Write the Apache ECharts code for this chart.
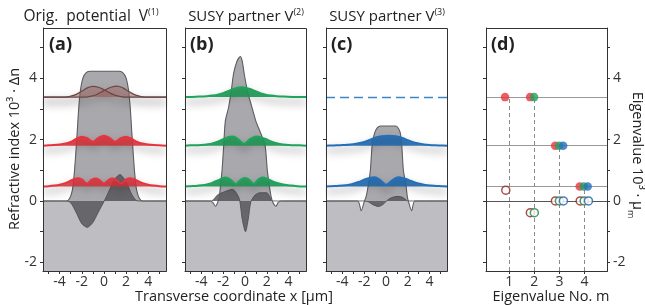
<!DOCTYPE html>
<html><head><meta charset="utf-8">
<script src="https://cdn.jsdelivr.net/npm/echarts@6/dist/echarts.min.js"></script>
<style>html,body{margin:0;padding:0;background:#fff}#c{width:645px;height:305px}</style>
</head><body><div id="c"></div>
<script>
// ---------------- data ----------------
const levels = [3.38, 1.80, 0.47];           // mode eigenvalues 10^3*mu
const xTicks = [-5,-4,-3,-2,-1,0,1,2,3,4,5];
const xLabels = [-4,-2,0,2,4];
const yTicks = [-2,-1,0,1,2,3,4,5];
const yLabels = [-2,0,2,4];
const mTicks = [1,2,3,4];
const mLabels = [1,2,3,4];

// refractive index profiles [x, dn]
const potA = [[-5.5,0],[-3.4,0],[-3.1,0.08],[-2.85,0.35],[-2.7,0.8],[-2.55,1.5],[-2.42,2.2],[-2.28,3.0],[-2.12,3.6],[-1.9,4.0],[-1.6,4.18],[-1.2,4.22],[1.3,4.22],[1.7,4.18],[2.0,4.0],[2.22,3.6],[2.38,3.0],[2.52,2.2],[2.65,1.5],[2.8,0.8],[2.95,0.35],[3.2,0.08],[3.5,0],[5.6,0]];
const potB = [[-5.5,0],[-3.2,0],[-2.95,-0.05],[-2.7,-0.17],[-2.5,-0.05],[-2.35,0.14],[-2.25,0.47],[-2.1,1.0],[-1.95,1.8],[-1.8,2.6],[-1.5,3.05],[-1.25,3.6],[-1.04,4.15],[-0.73,4.55],[-0.43,4.7],[-0.25,4.55],[-0.05,4.1],[0.25,3.55],[0.6,3.1],[1.0,2.6],[1.45,2.2],[1.85,1.8],[2.05,1.0],[2.25,0.47],[2.4,0.14],[2.55,-0.04],[2.85,-0.17],[3.05,-0.05],[3.3,0],[5.6,0]];
const potC = [[-5.5,0],[-2.6,0],[-2.27,-0.32],[-1.97,0],[-1.82,0.14],[-1.64,0.47],[-1.43,1.0],[-1.27,1.8],[-1.05,2.2],[-0.8,2.38],[-0.5,2.44],[0.9,2.44],[1.15,2.36],[1.32,2.2],[1.45,1.8],[1.6,1.0],[1.85,0.47],[1.96,0.14],[2.05,0],[2.36,-0.32],[2.66,0],[5.6,0]];

// auxiliary (dark) field profiles
const darkA = [[-5.5,0],[-3.4,0],[-3.0,-0.06],[-2.5,-0.38],[-2,-0.74],[-1.5,-0.86],[-1,-0.7],[-0.5,-0.36],[0,-0.02],[0.5,0.36],[1,0.72],[1.45,0.86],[2,0.62],[2.5,0.22],[2.9,0.02],[3.2,0],[5.6,0]];
const darkB = [[-5.5,0],[-3.1,0],[-2.8,0.08],[-2.5,0.2],[-2.1,0.27],[-1.5,0.35],[-1.15,0.38],[-0.8,0.27],[-0.5,0.05],[-0.25,-0.6],[0.05,-1.0],[0.3,-0.6],[0.55,-0.02],[0.95,0.2],[1.4,0.27],[2.0,0.27],[2.3,0.12],[2.5,0],[5.6,0]];
const darkC = [[-5.5,0],[-2.0,0],[-1.6,-0.03],[-1.2,-0.12],[-0.7,-0.18],[-0.3,-0.12],[0,-0.02],[0.3,0.07],[0.7,0.13],[1.1,0.15],[1.5,0.12],[1.8,0.05],[2.0,0],[5.6,0]];

// mode intensity profiles [x, height above level]
const modeA1L = [[-5.5,0],[-3.5,0],[-3,0.03],[-2.5,0.09],[-2,0.19],[-1.5,0.3],[-1,0.35],[-0.5,0.32],[0,0.24],[0.5,0.14],[1,0.06],[1.5,0.02],[2,0],[5.6,0]];
const modeA1R = [[-5.5,0],[-1.8,0],[-1.3,0.02],[-0.8,0.06],[-0.3,0.15],[0.2,0.25],[0.7,0.33],[1.2,0.36],[1.7,0.3],[2.2,0.19],[2.7,0.09],[3.2,0.03],[3.7,0],[5.6,0]];
const modeA2 = [[-5.5,0],[-5,0.01],[-4.5,0.02],[-4,0.04],[-3.5,0.07],[-3,0.12],[-2.5,0.22],[-2,0.29],[-1.5,0.24],[-1,0.13],[-0.5,0.25],[0,0.32],[0.5,0.25],[1,0.13],[1.5,0.24],[2,0.29],[2.5,0.22],[3,0.12],[3.5,0.07],[4,0.04],[4.5,0.02],[5,0.01],[5.6,0]];
const modeA3 = [[-5.5,0],[-5,0.01],[-4.5,0.03],[-4,0.06],[-3.5,0.11],[-3,0.19],[-2.4,0.27],[-2,0.23],[-1.55,0.1],[-1.1,0.22],[-0.7,0.26],[-0.3,0.18],[0,0.1],[0.3,0.18],[0.7,0.26],[1.1,0.22],[1.55,0.1],[2,0.23],[2.4,0.27],[3,0.19],[3.5,0.11],[4,0.06],[4.5,0.03],[5,0.01],[5.6,0]];
const modeB1 = [[-5.5,0],[-5,0.005],[-4.5,0.01],[-4,0.02],[-3.5,0.03],[-3,0.05],[-2.5,0.08],[-2,0.13],[-1.5,0.2],[-1,0.27],[-0.3,0.32],[0.4,0.27],[0.9,0.2],[1.4,0.13],[1.9,0.08],[2.4,0.05],[2.9,0.03],[3.4,0.02],[3.9,0.01],[4.4,0.005],[5.6,0]];
const modeB2 = [[-5.5,0],[-5,0.01],[-4.5,0.01],[-4,0.02],[-3.5,0.04],[-3,0.07],[-2.5,0.13],[-2,0.21],[-1.5,0.28],[-1.1,0.3],[-0.6,0.2],[-0.1,0.06],[0.5,0.22],[1.05,0.3],[1.5,0.27],[2,0.2],[2.5,0.12],[3,0.07],[3.5,0.04],[4,0.02],[4.5,0.01],[5,0.01],[5.6,0]];
const modeB3 = [[-5.5,0],[-5,0.01],[-4.5,0.02],[-4,0.04],[-3.5,0.07],[-3,0.12],[-2.5,0.2],[-1.8,0.29],[-1.3,0.22],[-0.85,0.08],[-0.4,0.22],[0,0.28],[0.4,0.22],[0.8,0.08],[1.2,0.22],[1.6,0.29],[2.2,0.22],[2.8,0.13],[3.3,0.08],[3.8,0.05],[4.3,0.03],[4.8,0.01],[5.6,0]];
const modeC2 = [[-5.5,0],[-5,0.005],[-4.5,0.01],[-4,0.02],[-3.5,0.03],[-3,0.05],[-2.5,0.08],[-2,0.12],[-1.5,0.19],[-1,0.26],[-0.4,0.31],[0.25,0.32],[0.9,0.31],[1.5,0.25],[2,0.18],[2.5,0.11],[3,0.07],[3.5,0.04],[4,0.02],[4.5,0.01],[5,0.005],[5.6,0]];
const modeC3 = [[-5.5,0],[-5,0.01],[-4.5,0.02],[-4,0.03],[-3.5,0.05],[-3,0.09],[-2.5,0.15],[-2,0.22],[-1.5,0.28],[-1.05,0.3],[-0.5,0.2],[0.03,0.06],[0.6,0.21],[1.15,0.3],[1.6,0.27],[2.1,0.21],[2.6,0.14],[3.1,0.09],[3.6,0.05],[4.1,0.03],[4.6,0.02],[5.1,0.01],[5.6,0]];

// eigenvalue panel (m, mu)
const eigRed   = [[0.83,3.38],[1.83,3.38],[2.83,1.80],[3.81,0.47]];
const eigGreen = [[1.99,3.38],[2.99,1.80],[3.97,0.47]];
const eigBlue  = [[3.15,1.80],[4.13,0.47]];
const auxRed   = [[0.86,0.35],[1.84,-0.38],[2.84,0],[3.83,0]];
const auxGreen = [[2.0,-0.38],[3.0,0],[3.99,0]];
const auxBlue  = [[3.16,0],[4.16,0]];
const stems    = [[1,3.38],[2,3.38],[3,1.80],[4,0.47]];

// ---------------- layout / style ----------------
const FONT = 'Open Sans';
const YMIN = -2.28, YMAX = 5.63, XMIN = -5.5, XMAX = 5.6, MMIN = 0.07, MMAX = 4.9;
const G = [
  {left:43, top:28, width:123, height:243},
  {left:185, top:28, width:121, height:243},
  {left:326, top:28, width:121, height:243},
  {left:486, top:28, width:121, height:243}
];
const AX = '#333';
const RED = '#e8343e', GREEN = '#20a35c', BLUE = '#2470b8', BROWN = '#6a4744';

function xAx(i, isM) {
  return {
    type:'value', gridIndex:i, min: isM?MMIN:XMIN, max: isM?MMAX:XMAX, z:10,
    axisLine:{show:true, onZero:false, lineStyle:{color:AX, width:1}},
    axisTick:{show:true, length:3, customValues: isM?mTicks:xTicks, lineStyle:{color:AX}},
    axisLabel:{show:true, customValues: isM?mLabels:xLabels, color:AX, fontFamily:FONT, fontSize:14, margin:4},
    splitLine:{show:false}
  };
}
function yAx(i, showLab, pos) {
  return {
    type:'value', gridIndex:i, min:YMIN, max:YMAX, position:pos||'left', z:10,
    axisLine:{show:true, onZero:false, lineStyle:{color:AX, width:1}},
    axisTick:{show:true, length:3, customValues:yTicks, lineStyle:{color:AX}},
    axisLabel:{show:showLab, customValues:yLabels, color:AX, fontFamily:FONT, fontSize:14, margin:6},
    splitLine:{show:false}
  };
}
const shadow = {shadowBlur:9, shadowColor:'rgba(0,0,0,0.55)', shadowOffsetY:5};

function potSeries(i, pot, dark) {
  const idx = {xAxisIndex:i, yAxisIndex:i, type:'line', showSymbol:false, silent:true, smooth:0.25, animation:false};
  return [
    Object.assign({}, idx, {data:pot, lineStyle:{width:0}, areaStyle:{origin:'start', color:'#bebec2', opacity:1}, z:1}),
    Object.assign({}, idx, {data:pot.map(p=>[p[0], Math.max(p[1],0)]), lineStyle:{width:0}, areaStyle:{origin:0, color:'#a9a9ad', opacity:1}, z:1}),
    Object.assign({}, idx, {data:dark, lineStyle:{width:0.8, color:'#4a4a4e'}, areaStyle:{origin:0, color:'#58585c', opacity:0.85}, z:2}),
    Object.assign({}, idx, {data:pot, lineStyle:{width:1.1, color:'#5e5e62'}, z:3})
  ];
}
function modeSeries(i, prof, lvl, color, fill, lw, extra) {
  return Object.assign({
    xAxisIndex:i, yAxisIndex:i, type:'line', showSymbol:false, silent:true, smooth:0.35, animation:false, z:5,
    data: prof.map(p=>[p[0], lvl + p[1]]),
    lineStyle: Object.assign({color:color, width:lw}, shadow),
    areaStyle: {origin:lvl, color:fill, opacity:1}
  }, extra||{});
}

const series = [];
series.push(...potSeries(0, potA, darkA));
series.push(...potSeries(1, potB, darkB));
series.push(...potSeries(2, potC, darkC));

series.push(modeSeries(0, modeA1L, levels[0], BROWN, 'rgba(175,115,112,0.55)', 1.2));
series.push(modeSeries(0, modeA1R, levels[0], BROWN, 'rgba(175,115,112,0.55)', 1.2));
series.push(modeSeries(0, modeA2, levels[1], RED, 'rgba(232,52,62,0.88)', 2));
series.push(modeSeries(0, modeA3, levels[2], RED, 'rgba(232,52,62,0.85)', 2));
series.push(modeSeries(1, modeB1, levels[0], GREEN, 'rgba(32,163,92,0.9)', 2));
series.push(modeSeries(1, modeB2, levels[1], GREEN, 'rgba(32,163,92,0.9)', 2));
series.push(modeSeries(1, modeB3, levels[2], GREEN, 'rgba(32,163,92,0.9)', 2));
series.push(modeSeries(2, modeC2, levels[1], BLUE, 'rgba(36,112,184,0.9)', 2, {
  markLine:{silent:true, symbol:'none', label:{show:false}, animation:false,
    lineStyle:{color:'#3a86c8', width:1.3, type:[9,5]}, data:[{yAxis:levels[0]}]}
}));
series.push(modeSeries(2, modeC3, levels[2], BLUE, 'rgba(36,112,184,0.9)', 2));

// eigenvalue panel
series.push({
  xAxisIndex:3, yAxisIndex:3, type:'line', data:[], silent:true, animation:false, z:2,
  markLine:{silent:true, symbol:'none', label:{show:false}, animation:false,
    data: levels.map(v=>({yAxis:v, lineStyle:{color:'#999', width:1, type:'solid'}}))
      .concat([{yAxis:0, lineStyle:{color:'#555', width:1.2, type:'solid'}}])
      .concat(stems.map(s=>[{coord:[s[0], YMIN], lineStyle:{color:'#8a8a8a', width:1, type:[4,3]}}, {coord:[s[0], s[1]]}]))
  }
});
function dots(data, fill, border) {
  return {xAxisIndex:3, yAxisIndex:3, type:'scatter', data:data, symbol:'circle', symbolSize: border?8:8.5,
    silent:true, animation:false, z:6,
    itemStyle: border ? {color:'#fff', borderColor:border, borderWidth:1.5} : {color:fill}};
}
series.push(dots(eigRed, RED));
series.push(dots(eigGreen, GREEN));
series.push(dots(eigBlue, BLUE));
series.push(dots(auxRed, null, '#8e2222'));
series.push(dots(auxGreen, null, '#1d7f44'));
series.push(dots(auxBlue, null, '#1f5ea6'));

// ---------------- text ----------------
function title(x, txt, s, fs) {
  const mainT = {fontSize:fs, fontFamily:FONT, fill:'#222', lineHeight:18};
  const sup = {fontSize:9, fontFamily:FONT, fill:'#222', verticalAlign:'top', lineHeight:18};
  return {type:'text', x:x, y:17, z:50, silent:true,
    style:{text:'{m|'+txt+'}{s|'+s+'}', rich:{m:mainT, s:sup}, textAlign:'center', textVerticalAlign:'middle', align:'center', verticalAlign:'middle'}};
}
function plabel(x, t) {
  return {type:'text', x:x, y:45, z:50, silent:true,
    style:{text:t, fontSize:18, fontWeight:'bold', fontFamily:FONT, fill:'#222', textVerticalAlign:'middle', verticalAlign:'middle'}};
}
const mainR = {fontSize:14.5, fontFamily:FONT, fill:'#222', lineHeight:18};
const graphics = [
  title(91, 'Orig.  potential  V', '(1)', 15.5),
  title(246, 'SUSY partner V', '(2)', 15),
  title(387, 'SUSY partner V', '(3)', 15),
  plabel(G[0].left+6, '(a)'), plabel(G[1].left+5, '(b)'), plabel(G[2].left+5, '(c)'), plabel(G[3].left+5, '(d)'),
  {type:'text', x:15, y:149, rotation:Math.PI/2, z:50, silent:true,
    style:{text:'Refractive index 10³ · Δn', fontSize:14.5, fontFamily:FONT, fill:'#222', textAlign:'center', textVerticalAlign:'middle', align:'center', verticalAlign:'middle'}},
  {type:'text', x:637, y:155, rotation:-Math.PI/2, z:50, silent:true,
    style:{text:'{m|Eigenvalue 10³ · μ}{s|m}', rich:{m:mainR, s:{fontSize:9, fontFamily:FONT, fill:'#222', verticalAlign:'bottom', lineHeight:22}}, textAlign:'center', textVerticalAlign:'middle', align:'center', verticalAlign:'middle'}},
  {type:'text', x:234, y:297, z:50, silent:true,
    style:{text:'Transverse coordinate x [μm]', fontSize:14.5, fontFamily:FONT, fill:'#222', textAlign:'center', textVerticalAlign:'middle', align:'center', verticalAlign:'middle'}},
  {type:'text', x:551, y:297, z:50, silent:true,
    style:{text:'Eigenvalue No. m', fontSize:14.5, fontFamily:FONT, fill:'#222', textAlign:'center', textVerticalAlign:'middle', align:'center', verticalAlign:'middle'}}
];
G.forEach(g => graphics.push({type:'rect', z:60, silent:true,
  shape:{x:g.left+0.5, y:g.top+0.5, width:g.width, height:g.height},
  style:{fill:'none', stroke:AX, lineWidth:1}}));

const chart = echarts.init(document.getElementById('c'), null, {renderer:'canvas'});
chart.setOption({
  animation:false,
  backgroundColor:'#fff',
  grid: G.map(g=>Object.assign({containLabel:false}, g)),
  xAxis: [xAx(0), xAx(1), xAx(2), xAx(3,true)],
  yAxis: [yAx(0,true), yAx(1,false), yAx(2,false), yAx(3,false,'left'), yAx(3,true,'right')],
  series: series,
  graphic: graphics
});
</script></body></html>
